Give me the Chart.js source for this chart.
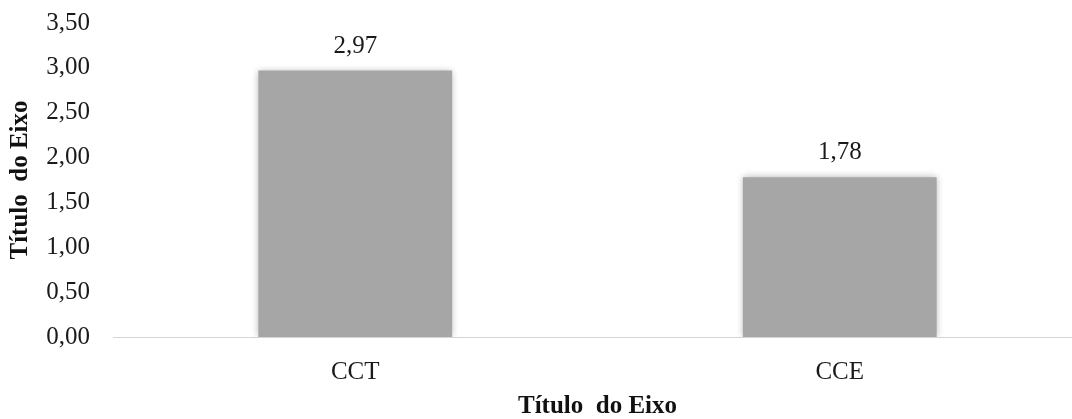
<!DOCTYPE html>
<html>
<head>
<meta charset="utf-8">
<script src="https://cdn.jsdelivr.net/npm/chart.js@4"></script>
<style>
  html, body { margin: 0; padding: 0; background: #fff; overflow: hidden; }
  #box { width: 1092px; height: 419px; }
</style>
</head>
<body>
<div id="box"><canvas id="grafico"></canvas></div>
<script>
const categorias = ['CCT', 'CCE'];
const valores = [2.97, 1.78];
const tituloEixo = 'Título  do Eixo';

const fonte = '"Liberation Serif", "Times New Roman", serif';

function virgula(v){
    return v.toFixed(2).replace('.', ',');
}

// sombra suave em volta das barras
const sombra = {
    id: 'sombra',
    beforeDatasetsDraw(chart){
        const c = chart.ctx;
        c.save();
        c.shadowColor = 'rgba(0,0,0,0.3)';
        c.shadowBlur = 7;
    },
    afterDatasetsDraw(chart){
        chart.ctx.restore();
    }
};

// valor escrito em cima de cada barra
const rotulos = {
    id: 'rotulos',
    afterDraw(chart){
        const c = chart.ctx;
        const meta = chart.getDatasetMeta(0);
        c.save();
        c.font = '25px ' + fonte;
        c.fillStyle = '#1a1a1a';
        c.textAlign = 'center';
        c.textBaseline = 'alphabetic';
        meta.data.forEach((barra, i) => {
            c.fillText(virgula(valores[i]), barra.x, barra.y - 18);
        });
        c.restore();
    }
};

new Chart(document.getElementById('grafico'), {
    type: 'bar',
    data: {
        labels: categorias,
        datasets: [{
            data: valores,
            backgroundColor: '#a6a6a6',
            borderWidth: 0,
            barPercentage: 0.4,
            categoryPercentage: 1
        }]
    },
    options: {
        responsive: true,
        maintainAspectRatio: false,
        animation: false,
        layout: { padding: { top: 23, right: 10, left: 0, bottom: 0 } },
        plugins: {
            legend: { display: false },
            tooltip: { enabled: false }
        },
        scales: {
            x: {
                grid: { display: false, drawTicks: false },
                border: { display: true, color: '#d4d4d4', width: 1 },
                ticks: {
                    color: '#1a1a1a',
                    padding: 20,
                    font: { family: fonte, size: 25 }
                },
                title: {
                    display: true,
                    text: tituloEixo,
                    color: '#111',
                    padding: { top: 0, bottom: 0 },
                    font: { family: fonte, size: 25, weight: 'bold', lineHeight: 1 }
                },
                afterFit(s){ s.height = 82; }
            },
            y: {
                min: 0,
                max: 3.5,
                grid: { display: false, drawTicks: false },
                border: { display: false },
                ticks: {
                    stepSize: 0.5,
                    color: '#1a1a1a',
                    padding: 23,
                    font: { family: fonte, size: 25 },
                    callback: v => virgula(v)
                },
                title: {
                    display: true,
                    text: tituloEixo,
                    color: '#111',
                    padding: { top: 6, bottom: 0 },
                    font: { family: fonte, size: 25, weight: 'bold' }
                },
                afterFit(s){
                    s.width = 113;
                    s.paddingTop = 0;
                    s.paddingBottom = 0;
                }
            }
        }
    },
    plugins: [sombra, rotulos]
});
</script>
</body>
</html>
